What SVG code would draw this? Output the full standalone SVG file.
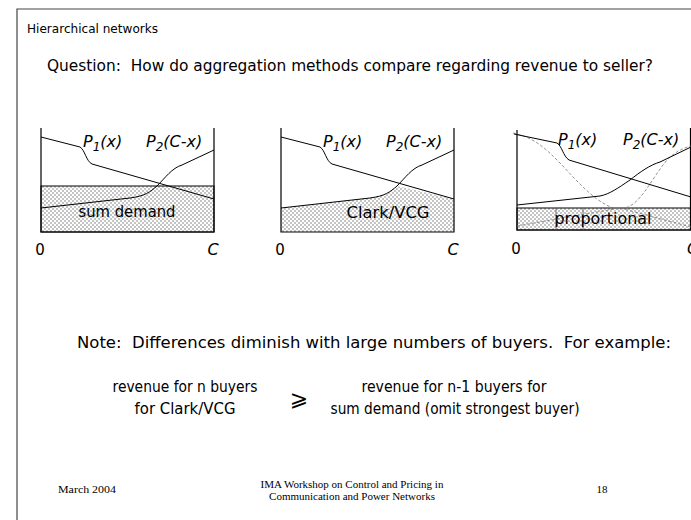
<svg xmlns="http://www.w3.org/2000/svg" width="691" height="520" viewBox="0 0 691 520">
<defs>
<pattern id="chk" patternUnits="userSpaceOnUse" width="4" height="4">
<rect width="4" height="4" fill="#ffffff"/>
<rect width="2" height="2" fill="#c4c4c4"/>
<rect x="2" y="2" width="2" height="2" fill="#c4c4c4"/>
</pattern>
<style>
.t{font-family:"DejaVu Sans","Open Sans",sans-serif;fill:#000}
.lbl{font-family:"DejaVu Sans","Open Sans",sans-serif;font-style:italic;font-size:16px;fill:#000}
.ft{font-family:"Liberation Serif","Times New Roman",serif;font-size:11px;fill:#000}
.ax{fill:none;stroke:#000;stroke-width:1.2}
.cv{fill:none;stroke:#000;stroke-width:1}
.dash{fill:none;stroke:#777;stroke-width:0.8;stroke-dasharray:3,2}
</style>
</defs>
<rect width="691" height="520" fill="#fff"/>
<path d="M17,520 V9 H691" fill="none" stroke="#444" stroke-width="1.2"/>

<text class="t" x="27" y="33" font-size="12" textLength="131" lengthAdjust="spacingAndGlyphs">Hierarchical networks</text>
<text class="t" x="47" y="71" font-size="16" xml:space="preserve" textLength="606" lengthAdjust="spacingAndGlyphs">Question:  How do aggregation methods compare regarding revenue to seller?</text>

<g id="chart-sum-demand">
<rect x="41" y="186" width="173" height="46" fill="url(#chk)" stroke="#000" stroke-width="1"/>
<path class="ax" d="M41,128 V232 H214 V128"/>
<path class="cv" d="M41,137 L80,147 C85,150 86,161 92,164 L214,199"/>
<path class="cv" d="M41,208 L130,198 C145,196 150,192 157,186 C165,178 172,168 182,165 L214,150"/>
<text class="lbl" x="83" y="147">P<tspan dy="4" font-size="12">1</tspan><tspan dy="-4">(x)</tspan></text>
<text class="lbl" x="146" y="147">P<tspan dy="4" font-size="12">2</tspan><tspan dy="-4">(C-x)</tspan></text>
<text class="t" x="127" y="217" font-size="15" text-anchor="middle" textLength="97" lengthAdjust="spacingAndGlyphs">sum demand</text>
<text class="t" x="40" y="255" font-size="15" text-anchor="middle">0</text>
<text class="lbl" x="213" y="255" font-size="15" text-anchor="middle">C</text>
</g>

<g id="chart-clark-vcg">
<path d="M281,232 V208 L370,198 C385,196 390,192 397,186 L454,199 V232 Z" fill="url(#chk)"/>
<path class="ax" d="M281,128 V232 H454 V128"/>
<path class="cv" d="M281,137 L320,147 C325,150 326,161 332,164 L454,199"/>
<path class="cv" d="M281,208 L370,198 C385,196 390,192 397,186 C405,178 412,168 422,165 L454,150"/>
<text class="lbl" x="323" y="147">P<tspan dy="4" font-size="12">1</tspan><tspan dy="-4">(x)</tspan></text>
<text class="lbl" x="386" y="147">P<tspan dy="4" font-size="12">2</tspan><tspan dy="-4">(C-x)</tspan></text>
<text class="t" x="388" y="218" font-size="15" text-anchor="middle" textLength="83" lengthAdjust="spacingAndGlyphs">Clark/VCG</text>
<text class="t" x="280" y="255" font-size="15" text-anchor="middle">0</text>
<text class="lbl" x="453" y="255" font-size="15" text-anchor="middle">C</text>
</g>

<g id="chart-proportional">
<rect x="517" y="208" width="174" height="22" fill="url(#chk)" stroke="#000" stroke-width="1"/>
<path class="ax" d="M517,130 V230 H691"/>
<path class="ax" d="M690.5,128 V230"/>
<path class="dash" d="M513,133 C535,138 545,148 560,163 C578,182 600,208 620,209 C640,208 650,180 667,160 C675,152 683,148 691,146"/>
<path class="dash" d="M517,226 L620,208 L691,227"/>
<path d="M556,208 V230 M583,208 V230" stroke="#555" stroke-width="0.8"/>
<path class="cv" d="M514,134 L557,143 C562,146 563,156 569,160 L691,197"/>
<path class="cv" d="M517,205 L600,196 C610,194 618,188 630,180 C640,172 650,165 660,162 L691,147"/>
<text class="lbl" x="558" y="145">P<tspan dy="4" font-size="12">1</tspan><tspan dy="-4">(x)</tspan></text>
<text class="lbl" x="623" y="145">P<tspan dy="4" font-size="12">2</tspan><tspan dy="-4">(C-x)</tspan></text>
<text class="t" x="603" y="224" font-size="15" text-anchor="middle" textLength="97" lengthAdjust="spacingAndGlyphs">proportional</text>
<text class="t" x="516" y="254" font-size="15" text-anchor="middle">0</text>
<text class="lbl" x="687" y="254" font-size="15">C</text>
</g>

<text class="t" x="77" y="348" font-size="16" xml:space="preserve" textLength="594" lengthAdjust="spacingAndGlyphs">Note:  Differences diminish with large numbers of buyers.  For example:</text>

<g id="left-expr">
<text class="t" x="185" y="392" font-size="15" text-anchor="middle" textLength="145" lengthAdjust="spacingAndGlyphs">revenue for n buyers</text>
<text class="t" x="185" y="414" font-size="15" text-anchor="middle" textLength="101" lengthAdjust="spacingAndGlyphs">for Clark/VCG</text>
</g>
<g id="geq">
<text class="t" x="299" y="406" font-size="22" text-anchor="middle">⩾</text>
</g>
<g id="right-expr">
<text class="t" x="454" y="392" font-size="15" text-anchor="middle" textLength="185" lengthAdjust="spacingAndGlyphs">revenue for n-1 buyers for</text>
<text class="t" x="455" y="414" font-size="15" text-anchor="middle" textLength="249" lengthAdjust="spacingAndGlyphs">sum demand (omit strongest buyer)</text>
</g>

<text class="ft" x="58" y="493" textLength="58" lengthAdjust="spacingAndGlyphs">March 2004</text>
<text class="ft" x="352" y="488" font-size="10" text-anchor="middle">IMA Workshop on Control and Pricing in</text>
<text class="ft" x="352" y="500" font-size="10" text-anchor="middle">Communication and Power Networks</text>
<text class="ft" x="602" y="493" text-anchor="middle">18</text>
</svg>
